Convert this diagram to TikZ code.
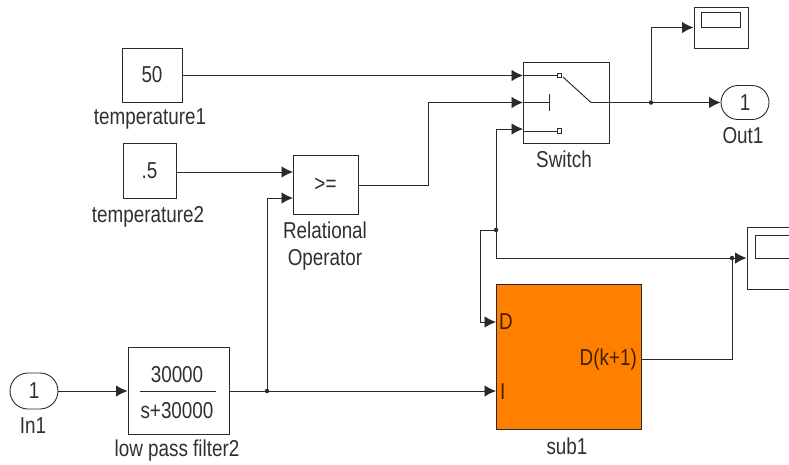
\documentclass[tikz,border=0pt]{standalone}
\usepackage{fontspec}
\setmainfont[FakeStretch=0.82]{Liberation Sans}
\usetikzlibrary{arrows.meta,shapes.misc,positioning}
\definecolor{ln}{HTML}{2A2A2A}
\definecolor{tx}{HTML}{303030}
\definecolor{subfill}{HTML}{FF8000}
\tikzset{
  blockbox/.style={draw=ln,line width=.95pt,fill=white,inner sep=0pt,text=tx,font=\fontsize{23}{25}\selectfont},
  portoval/.style={draw=ln,line width=.9pt,rounded rectangle,fill=white,inner sep=0pt,text=tx,font=\fontsize{23}{25}\selectfont},
  lab/.style={inner sep=0pt,text=tx,align=center,font=\fontsize{23}{27}\selectfont},
  wire/.style={draw=ln,line width=.95pt},
  arrowwire/.style={wire,-{Latex[length=11.5pt,width=11.5pt]}},
  dotj/.style={circle,fill=ln,inner sep=0pt,minimum size=4.5pt},
  contact/.style={draw=ln,line width=.9pt,fill=white,inner sep=0pt,minimum size=4.5pt}
}
\begin{document}
\begin{tikzpicture}[x=1pt,y=-1pt]
\useasboundingbox (0,0) rectangle (789,464);
\clip (0,0) rectangle (789,464);
% blocks
\node[blockbox,minimum width=60pt,minimum height=54pt] (t1) at (152,75) {50};
\node[blockbox,minimum width=53pt,minimum height=55pt] (t2) at (149.5,170.5) {.5};
\node[blockbox,minimum width=65pt,minimum height=59pt] (rel) at (325.5,185) {>=};
\node[blockbox,minimum width=86pt,minimum height=81pt] (sw) at (566,102.5) {};
\node[blockbox,minimum width=54pt,minimum height=41pt] (sc1) at (721,27.5) {};
\node[draw=ln,line width=1pt,minimum width=39pt,minimum height=15pt,inner sep=0pt] (sc1i) at (721,20) {};
\node[portoval,minimum width=48pt,minimum height=34pt] (out) at (745,102.5) {1};
\node[blockbox,minimum width=60pt,minimum height=62pt] (sc2) at (777,258) {};
\node[draw=ln,line width=1pt,minimum width=50pt,minimum height=23pt,inner sep=0pt] (sc2i) at (780,246.5) {};
\node[blockbox,fill=subfill,minimum width=145pt,minimum height=145pt] (sub) at (568.5,356.5) {};
\node[blockbox,minimum width=101pt,minimum height=87pt] (lp) at (178.5,391) {};
\node[portoval,minimum width=48pt,minimum height=36pt] (in) at (34,391) {1};
% block contents
\node[lab] (lpn) at (177,375) {30000};
\node[lab] (lpd) at (177,411) {s+30000};
\coordinate (lpa) at (140,391);
\coordinate (lpb) at (216,391);
\draw[wire] (lpa) -- (lpb);
\node[lab,anchor=west,text=black!75!subfill] (dl) at (499,322) {D};
\node[lab,anchor=west,text=black!75!subfill] (il) at (500,392) {I};
\node[lab,anchor=east,text=black!75!subfill] (dk) at (637,360) {D(k+1)};
% labels
\node[lab] (l1) at (150,119) {temperature1};
\node[lab] (l2) at (148,217) {temperature2};
\node[lab] (l3) at (325,246.5) {Relational\\Operator};
\node[lab] (l4) at (564,159) {Switch};
\node[lab] (l5) at (743,136) {Out1};
\node[lab] (l6) at (33,426) {In1};
\node[lab] (l7) at (177,451) {low pass filter2};
\node[lab] (l8) at (567,446) {sub1};
% switch interior
\node[contact] (c1) at (559.5,75.5) {};
\node[contact] (c3) at (559.5,131) {};
\coordinate (sa) at (523,75.5);
\coordinate (sb) at (523,102.5);
\coordinate (sc) at (523,129);
\coordinate (bar) at (549,102.5);
\coordinate (bart) at (549,94);
\coordinate (barb) at (549,111);
\coordinate (piv) at (591,102.5);
\coordinate (lev) at (563,77);
\draw[wire] (sa) -- (c1);
\draw[wire] (sb) -- (bar);
\draw[wire] (bart) -- (barb);
\draw[wire] (sc) -- (523,131) -- (c3);
\draw[wire] (lev) -- (piv);
% junctions
\node[dotj] (j1) at (651,102.5) {};
\node[dotj] (j2) at (496,230) {};
\node[dotj] (j3) at (732,258) {};
\node[dotj] (j4) at (267,391) {};
\coordinate (ci) at (293,198);
\coordinate (cr1) at (293,172);
\coordinate (jl) at (480,230);
\coordinate (dp) at (496,322);
\coordinate (ip) at (496,391);
\coordinate (o) at (641,359);
% connectors
\draw[arrowwire] (t1.east |- sa) -- (sa);
\draw[arrowwire] (t2.east |- cr1) -- (cr1);
\draw[arrowwire] (rel.east) -- (428,185) -- (428,102.5) -- (sb);
\draw[wire] (piv) -- (sw.east) -- (j1);
\draw[arrowwire] (j1) -- (out.west);
\draw[arrowwire] (j1) -- (651,27.5) -- (sc1.west);
\draw[arrowwire] (in.east) -- (lp.west);
\draw[wire] (lp.east) -- (j4);
\draw[arrowwire] (j4) -- (267,198) -- (ci);
\draw[arrowwire] (j4) -- (ip);
\draw[arrowwire] (j3) -- (sc2.west);
\draw[wire] (o) -- (732,359) -- (j3);
\draw[wire] (j3) -- (496,258) -- (j2);
\draw[arrowwire] (j2) -- (496,129) -- (sc);
\draw[arrowwire] (j2) -- (jl) -- (480,322) -- (dp);
\end{tikzpicture}
\end{document}
